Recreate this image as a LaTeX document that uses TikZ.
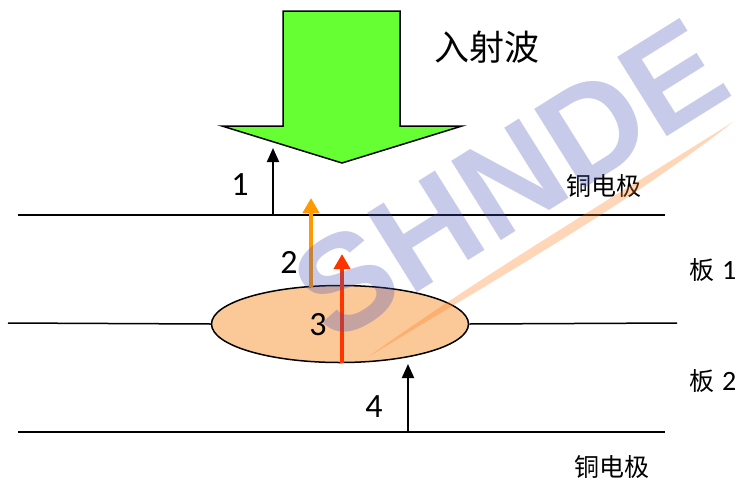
\documentclass[tikz,border=0pt]{standalone}
\usepackage{fontspec}
\setmainfont{Carlito}
\newfontfamily\cjk{Noto Sans CJK SC}
\newfontfamily\wmfont{Liberation Sans}
\usetikzlibrary{arrows.meta,shapes.geometric}
\definecolor{wavegreen}{RGB}{102,255,51}
\definecolor{corefill}{RGB}{251,200,152}
\definecolor{arrorange}{RGB}{255,153,0}
\definecolor{arrred}{RGB}{255,51,0}
\definecolor{wmblue}{RGB}{70,80,180}
\definecolor{wmorange}{RGB}{255,120,20}
\tikzset{
    myline/.style={line width=1.5pt,draw=black},
    myarrow/.style={line width=2pt,draw=black,-{Triangle[width=12pt,length=14pt]}},
    mythick/.style={line width=4.5pt,-{Triangle[width=16pt,length=15pt]}},
    mynum/.style={font=\fontsize{34}{34}\selectfont},
    mycjk/.style={font=\cjk\fontsize{25}{25}\selectfont},
    every node/.style={inner sep=0pt}
}

\begin{document}
\begin{tikzpicture}[x=1pt,y=-1pt]
  \useasboundingbox (0,0) rectangle (741,482);

  % 入射波
  \draw[fill=wavegreen,line width=1.5pt,line join=miter]
    (283,11) -- (400,11) -- (400,126) -- (462,126) -- (342,163)
    -- (222,126) -- (283,126) -- cycle;
  \node[font=\cjk\fontsize{35}{35}\selectfont] (wave) at (487,47) {入射波};

  % 电极与板
  \coordinate (topL) at (18,215);
  \coordinate (topR) at (665,215);
  \coordinate (midL) at (8,323);
  \coordinate (midR) at (677,323);
  \coordinate (botL) at (18,432);
  \coordinate (botR) at (665,432);
  \draw[myline] (topL) -- (topR);
  \draw[myline] (botL) -- (botR);

  \node[ellipse,draw=black,line width=1.5pt,fill=corefill,
    minimum width=257pt,minimum height=77pt] (core) at (340,324) {};
  \draw[myline] (midL) -- (core.west);
  \draw[myline] (core.east) -- (midR);

  \node[mycjk] (cutop) at (604,186) {铜电极};
  \node[mycjk] (cubot) at (612,467) {铜电极};
  \node[anchor=west] (plate1) at (689,270)
    {{\cjk\fontsize{25}{25}\selectfont 板}\hspace{8pt}{\fontsize{28}{28}\selectfont 1}};
  \node[anchor=west] (plate2) at (689,381)
    {{\cjk\fontsize{25}{25}\selectfont 板}\hspace{8pt}{\fontsize{28}{28}\selectfont 2}};

  % 反射波 1-4
  \coordinate (r1s) at (273,215);
  \coordinate (r1e) at (273,148);
  \coordinate (r2s) at (311,287);
  \coordinate (r2e) at (311,198);
  \coordinate (r3s) at (342,363);
  \coordinate (r3e) at (342,254);
  \coordinate (r4s) at (408,432);
  \coordinate (r4e) at (408,364);

  \draw[myarrow] (r1s) -- (r1e);
  \draw[mythick,draw=arrorange,fill=arrorange] (r2s) -- (r2e);
  \draw[mythick,draw=arrred,fill=arrred] (r3s) -- (r3e);
  \draw[myarrow] (r4s) -- (r4e);

  \node[mynum] (n1) at (240,185) {1};
  \node[mynum] (n2) at (289,262) {2};
  \node[mynum] (n3) at (318,325) {3};
  \node[mynum] (n4) at (374,407) {4};

  % 水印
  \fill[wmorange,opacity=0.3]
    (368,357) .. controls (490,282) and (620,210) .. (733,122)
    .. controls (612,198) and (484,274) .. (368,357);
  \node[rotate=32,text=wmblue,opacity=0.3,
    font=\wmfont\bfseries\fontsize{136}{136}\selectfont] (wm) at (510,180) {SHNDE};
\end{tikzpicture}
\end{document}
